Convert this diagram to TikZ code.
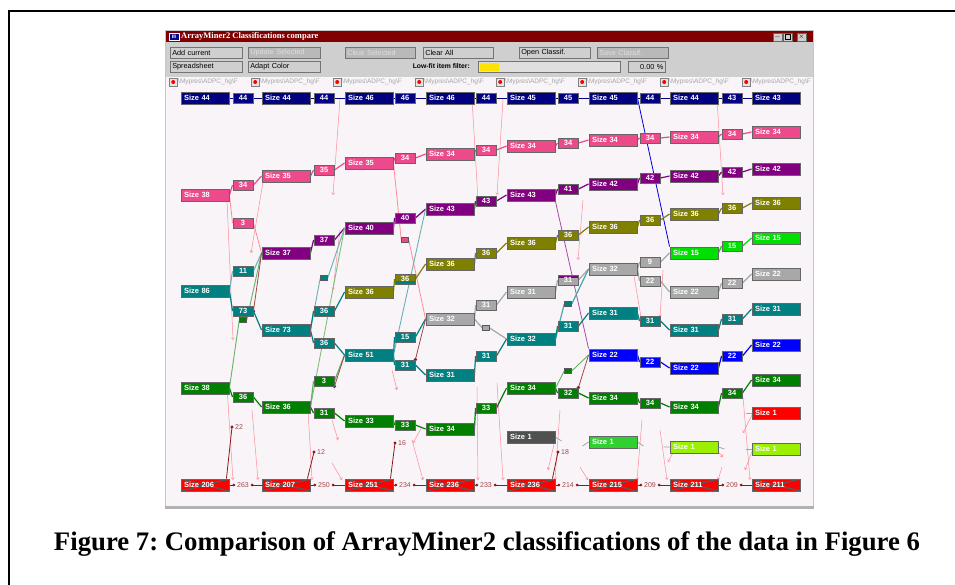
\documentclass[tikz,border=0pt]{standalone}
\usepackage{fontspec}
\usepackage{graphicx}
\setmainfont{Liberation Serif}
\newfontfamily\uifont{Liberation Sans}
\usetikzlibrary{arrows.meta,shadows,calc}
\pgfdeclarelayer{back}
\pgfdeclarelayer{bg}
\pgfsetlayers{back,bg,main}
\frenchspacing
\definecolor{titlered}{HTML}{800000}
\definecolor{tbgray}{HTML}{D0CFCF}
\definecolor{canvasc}{HTML}{F8F4F8}
\definecolor{navyc}{HTML}{000080}
\definecolor{pinkc}{HTML}{EC4A8A}
\definecolor{purpc}{HTML}{800080}
\definecolor{olivc}{HTML}{808000}
\definecolor{tealc}{HTML}{008080}
\definecolor{greenc}{HTML}{007F00}
\definecolor{bluec}{HTML}{0000FF}
\definecolor{lgreenc}{HTML}{00E000}
\definecolor{grayc}{HTML}{A8A8A8}
\definecolor{dgrayc}{HTML}{505050}
\definecolor{gtwoc}{HTML}{30D030}
\definecolor{limec}{HTML}{9AF000}
\definecolor{redc}{HTML}{FF0000}
\definecolor{dredc}{HTML}{8B1A1A}
\definecolor{pinkline}{HTML}{FF8C98}
\newcommand{\uiF}{\uifont\bfseries\fontsize{7.5}{8}\selectfont}
\newcommand{\cnx}[4]{\draw[#1] (#2.east) -- (#3.west) (#3.east) -- (#4.west);}
\newcommand{\botlnk}[3]{\draw[dredc,line width=0.7pt] (#1.east) -- (#2.west) (#2.east) -- (#3.west); \fill[dredc] (#2.west) circle (1.5) (#2.east) circle (1.5);}
\tikzset{
  cls/.style={draw=black!60, line width=0.9pt, fill=#1, minimum height=12pt, text width=42pt, inner xsep=3pt, inner ysep=0pt, align=left, font=\uiF, text=white, drop shadow={shadow xshift=1.3pt, shadow yshift=-1.3pt, opacity=0.6, fill=black!60}},
  lnk/.style={draw=black!60, line width=0.9pt, fill=#1, minimum width=20pt, minimum height=10pt, inner sep=0pt, font=\uiF, text=white, drop shadow={shadow xshift=1pt, shadow yshift=-1pt, opacity=0.6, fill=black!60}},
  tinybox/.style={draw=black!65, line width=0.5pt, fill=#1, minimum width=7pt, minimum height=5pt, inner sep=0pt},
  redx/.style={cls=redc, path picture={\draw[black!65,line width=1.4pt] (path picture bounding box.north west) -- (path picture bounding box.south east) (path picture bounding box.south west) -- (path picture bounding box.north east);}},
  btn/.style={draw=black!55, fill=tbgray, line width=0.6pt, minimum height=11pt, inner xsep=2pt, inner ysep=0pt, anchor=west, align=left, font=\uifont\fontsize{7.3}{8}\selectfont},
  dbtn/.style={btn, fill=gray!55, text=gray!25},
  dotlbl/.style={font=\uifont\fontsize{7}{8}\selectfont, text=dredc!80, inner xsep=3pt, inner ysep=0pt},
  pk/.style={draw=pinkline, line width=0.5pt, -{Straight Barb[length=2pt,width=3pt]}},
  ln/.style={line width=1.2pt},
  wbtn/.style={draw=black!60, fill=tbgray, minimum width=9pt, minimum height=8pt, inner sep=0pt, font=\uiF},
}
\begin{document}
\begin{tikzpicture}[x=1pt,y=-1pt]
\useasboundingbox (0,0) rectangle (955,584);
\begin{pgfonlayer}{back}
\fill[white] (0,0) rectangle (955,584);
\draw[line width=2pt] (9,590) -- (9,11) -- (962,11);
% window
\fill[gray!45] (165,30) rectangle (814,508);
\fill[titlered] (166,31) rectangle (813,42);
\fill[tbgray] (166,42) rectangle (813,77);
\fill[canvasc] (166,77) rectangle (813,506);
\fill[gray!60] (165,506) rectangle (814,508.5);
\end{pgfonlayer}
% title bar
\node[fill=blue!55!black, draw=white!70, minimum width=10pt, minimum height=7pt, inner sep=0pt, font=\uifont\bfseries\fontsize{5}{5}\selectfont, text=white] (ticon) at (174,36.5) {III};
\node[anchor=west, inner sep=0pt, font=\bfseries\fontsize{8.5}{9}\selectfont, text=white] (ttitle) at (181,36.5) {ArrayMiner2 Classifications compare};
\node[wbtn] (wmin) at (777.5,37) {\_};
\node[wbtn] (wmax) at (787.5,37) {};
\draw[black, line width=0.6pt] ($(wmax.center)+(-2.5,-2.5)$) rectangle ($(wmax.center)+(2.5,2.5)$);
\node[wbtn] (wcls) at (801.5,37) {$\times$};
% toolbar
\node[btn, text width=68pt] (bA) at (170,52.5) {Add current};
\node[dbtn, text width=68pt] (bB) at (248,52.5) {Update Selected};
\node[dbtn, text width=66pt] (bC) at (345,52.5) {Clear Selected};
\node[btn, text width=66pt] (bD) at (423,52.5) {Clear All};
\node[btn, text width=67pt] (bE) at (519,52.5) {Open Classif.};
\node[dbtn, text width=67pt] (bF) at (597,52.5) {Save Classif.};
\node[btn, text width=68pt] (bG) at (170,66.5) {Spreadsheet};
\node[btn, text width=68pt] (bH) at (248,66.5) {Adapt Color};
\node[anchor=east, inner sep=0pt, font=\uifont\bfseries\fontsize{6.8}{7}\selectfont] (lowfit) at (470,66.5) {Low-fit item filter:};
\node[draw=black!55, fill=gray!25, minimum width=142pt, minimum height=11pt, inner sep=0pt, anchor=west] (pbar) at (478,66.5) {};
\node[fill=yellow!85!orange, minimum width=19pt, minimum height=8pt, inner sep=0pt, anchor=west] (pfill) at (479.5,66.5) {};
\node[btn, text width=33pt, align=right] (pct) at (628,66.5) {0.00 \%};
% file row
\foreach \fx [count=\fk] in {169,251,333,415,496,578,660,742}{
  \node[draw=black!50, fill=gray!20, minimum size=8pt, inner sep=0pt, anchor=west] (ic\fk) at (\fx,82) {};
  \fill[red] (ic\fk.center) circle (2);
  \node[anchor=west, inner sep=0pt, font=\uifont\fontsize{6.5}{7}\selectfont, text=gray!70] (fl\fk) at (\fx+9,82) {\textbackslash Mypres\textbackslash ADPC\_hg\textbackslash F};
}
% ---------------- nodes ----------------
% col 1
\node[cls=navyc] (c1a) at (205,98) {Size 44};
\node[cls=pinkc] (c1b) at (205,195) {Size 38};
\node[cls=tealc] (c1c) at (205,291) {Size 86};
\node[cls=greenc] (c1d) at (205,388) {Size 38};
\node[redx] (c1e) at (205,485) {Size 206};
% col 2
\node[cls=navyc] (c2a) at (286,98) {Size 44};
\node[cls=pinkc] (c2b) at (286,176) {Size 35};
\node[cls=purpc] (c2c) at (286,253) {Size 37};
\node[cls=tealc] (c2d) at (286,330) {Size 73};
\node[cls=greenc] (c2e) at (286,407) {Size 36};
\node[redx] (c2f) at (286,485) {Size 207};
% col 3
\node[cls=navyc] (c3a) at (369,98) {Size 46};
\node[cls=pinkc] (c3b) at (369,163) {Size 35};
\node[cls=purpc] (c3c) at (369,228) {Size 40};
\node[cls=olivc] (c3d) at (369,292) {Size 36};
\node[cls=tealc] (c3e) at (369,355) {Size 51};
\node[cls=greenc] (c3f) at (369,421) {Size 33};
\node[redx] (c3g) at (369,485) {Size 251};
% col 4
\node[cls=navyc] (c4a) at (450,98) {Size 46};
\node[cls=pinkc] (c4b) at (450,154) {Size 34};
\node[cls=purpc] (c4c) at (450,209) {Size 43};
\node[cls=olivc] (c4d) at (450,264) {Size 36};
\node[cls=grayc] (c4e) at (450,319) {Size 32};
\node[cls=tealc] (c4f) at (450,375) {Size 31};
\node[cls=greenc] (c4g) at (450,429) {Size 34};
\node[redx] (c4h) at (450,485) {Size 236};
% col 5
\node[cls=navyc] (c5a) at (531,98) {Size 45};
\node[cls=pinkc] (c5b) at (531,146) {Size 34};
\node[cls=purpc] (c5c) at (531,195) {Size 43};
\node[cls=olivc] (c5d) at (531,243) {Size 36};
\node[cls=grayc] (c5e) at (531,292) {Size 31};
\node[cls=tealc] (c5f) at (531,339) {Size 32};
\node[cls=greenc] (c5g) at (531,388) {Size 34};
\node[cls=dgrayc] (c5h) at (531,437) {Size 1};
\node[redx] (c5i) at (531,485) {Size 236};
% col 6
\node[cls=navyc] (c6a) at (613,98) {Size 45};
\node[cls=pinkc] (c6b) at (613,140) {Size 34};
\node[cls=purpc] (c6c) at (613,184) {Size 42};
\node[cls=olivc] (c6d) at (613,227) {Size 36};
\node[cls=grayc] (c6e) at (613,269) {Size 32};
\node[cls=tealc] (c6f) at (613,313) {Size 31};
\node[cls=bluec] (c6g) at (613,355) {Size 22};
\node[cls=greenc] (c6h) at (613,398) {Size 34};
\node[cls=gtwoc] (c6i) at (613,442) {Size 1};
\node[redx] (c6j) at (613,485) {Size 215};
% col 7
\node[cls=navyc] (c7a) at (694,98) {Size 44};
\node[cls=pinkc] (c7b) at (694,137) {Size 34};
\node[cls=purpc] (c7c) at (694,176) {Size 42};
\node[cls=olivc] (c7d) at (694,214) {Size 36};
\node[cls=lgreenc] (c7e) at (694,253) {Size 15};
\node[cls=grayc] (c7f) at (694,292) {Size 22};
\node[cls=tealc] (c7g) at (694,330) {Size 31};
\node[cls=bluec] (c7h) at (694,368) {Size 22};
\node[cls=greenc] (c7i) at (694,407) {Size 34};
\node[cls=limec] (c7j) at (694,447) {Size 1};
\node[redx] (c7k) at (694,485) {Size 211};
% col 8
\node[cls=navyc] (c8a) at (776,98) {Size 43};
\node[cls=pinkc] (c8b) at (776,132) {Size 34};
\node[cls=purpc] (c8c) at (776,169) {Size 42};
\node[cls=olivc] (c8d) at (776,203) {Size 36};
\node[cls=lgreenc] (c8e) at (776,238) {Size 15};
\node[cls=grayc] (c8f) at (776,274) {Size 22};
\node[cls=tealc] (c8g) at (776,309) {Size 31};
\node[cls=bluec] (c8h) at (776,345) {Size 22};
\node[cls=greenc] (c8i) at (776,380) {Size 34};
\node[cls=redc] (c8j) at (776,413) {Size 1};
\node[cls=limec] (c8k) at (776,449) {Size 1};
\node[redx] (c8l) at (776,485) {Size 211};
% links 1-2
\node[lnk=navyc] (l12a) at (243,98) {44};
\node[lnk=pinkc] (l12b) at (243,185) {34};
\node[lnk=pinkc] (l12c) at (243,223) {3};
\node[lnk=tealc] (l12d) at (243,271) {11};
\node[lnk=tealc] (l12e) at (243,311) {73};
\node[tinybox=greenc] (l12f) at (243,320) {};
\node[lnk=greenc] (l12g) at (243,397) {36};
% links 2-3
\node[lnk=navyc] (l23a) at (324,98) {44};
\node[lnk=pinkc] (l23b) at (324,170) {35};
\node[lnk=purpc] (l23c) at (324,240) {37};
\node[tinybox=tealc] (l23d) at (324,278) {};
\node[lnk=tealc] (l23e) at (324,311) {36};
\node[lnk=tealc] (l23f) at (324,343) {36};
\node[lnk=greenc] (l23g) at (324,381) {3};
\node[lnk=greenc] (l23h) at (324,413) {31};
% links 3-4
\node[lnk=navyc] (l34a) at (405,98) {46};
\node[lnk=pinkc] (l34b) at (405,158) {34};
\node[lnk=purpc] (l34c) at (405,218) {40};
\node[tinybox=pinkc] (l34d) at (405,240) {};
\node[lnk=olivc, path picture={\fill[tealc] (path picture bounding box.south west) rectangle ([yshift=3pt]path picture bounding box.south east);}] (l34e) at (405,279) {36};
\node[lnk=tealc] (l34f) at (405,337) {15};
\node[lnk=tealc] (l34g) at (405,365) {31};
\node[lnk=greenc] (l34h) at (405,425) {33};
% links 4-5
\node[lnk=navyc] (l45a) at (486,98) {44};
\node[lnk=pinkc] (l45b) at (486,150) {34};
\node[lnk=purpc] (l45c) at (486,201) {43};
\node[lnk=olivc] (l45d) at (486,253) {36};
\node[lnk=grayc] (l45e) at (486,305) {31};
\node[tinybox=grayc] (l45f) at (486,328) {};
\node[lnk=tealc] (l45g) at (486,356) {31};
\node[lnk=greenc] (l45h) at (486,408) {33};
% links 5-6
\node[lnk=navyc] (l56a) at (568,98) {45};
\node[lnk=pinkc] (l56b) at (568,143) {34};
\node[lnk=purpc] (l56c) at (568,189) {41};
\node[lnk=olivc] (l56d) at (568,235) {36};
\node[lnk=grayc, path picture={\fill[purpc] (path picture bounding box.north west) rectangle ([yshift=-2.5pt]path picture bounding box.north east);}] (l56e) at (568,280) {31};
\node[tinybox=tealc] (l56f) at (568,304) {};
\node[lnk=tealc] (l56g) at (568,326) {31};
\node[tinybox=greenc] (l56h) at (568,371) {};
\node[lnk=greenc] (l56i) at (568,393) {32};
% links 6-7
\node[lnk=navyc] (l67a) at (650,98) {44};
\node[lnk=pinkc] (l67b) at (650,138) {34};
\node[lnk=purpc] (l67c) at (650,178) {42};
\node[lnk=olivc] (l67d) at (650,220) {36};
\node[lnk=grayc] (l67e) at (650,262) {9};
\node[lnk=grayc] (l67f) at (650,281) {22};
\node[lnk=tealc] (l67g) at (650,321) {31};
\node[lnk=bluec] (l67h) at (650,362) {22};
\node[lnk=greenc] (l67i) at (650,403) {34};
% links 7-8
\node[lnk=navyc] (l78a) at (732,98) {43};
\node[lnk=pinkc] (l78b) at (732,134) {34};
\node[lnk=purpc] (l78c) at (732,172) {42};
\node[lnk=olivc] (l78d) at (732,208) {36};
\node[lnk=lgreenc] (l78e) at (732,246) {15};
\node[lnk=grayc] (l78f) at (732,283) {22};
\node[lnk=tealc] (l78g) at (732,319) {31};
\node[lnk=bluec] (l78h) at (732,356) {22};
\node[lnk=greenc] (l78i) at (732,393) {34};
% bottom labels
\node[dotlbl] (b12) at (243,485) {263};
\node[dotlbl] (b23) at (324,485) {250};
\node[dotlbl] (b34) at (405,485) {234};
\node[dotlbl] (b45) at (486,485) {233};
\node[dotlbl] (b56) at (568,485) {214};
\node[dotlbl] (b67) at (650,485) {209};
\node[dotlbl] (b78) at (732,485) {209};
\coordinate (e22) at (232,427);
\coordinate (e12) at (314,452);
\coordinate (e16) at (395,443);
\coordinate (e18) at (558,452);
\node[dotlbl, anchor=west] (t22) at (e22) {22};
\node[dotlbl, anchor=west] (t12) at (e12) {12};
\node[dotlbl, anchor=west] (t16) at (e16) {16};
\node[dotlbl, anchor=west] (t18) at (e18) {18};
% ---------------- connectors ----------------
\begin{pgfonlayer}{bg}
% faint pink flows
\foreach \ax/\ay/\bx/\by in {340/99/333/195, 472/99/478/200, 503/99/497/195, 717/99/723/195, 263/182/251/253, 227/200/233/340, 340/230/333/290, 583/200/578/260, 633/270/642/323, 663/270/660/317, 227/387/233/480, 252/410/258/480, 308/410/312/480, 332/420/338/440, 392/370/397/390, 332/463/342/480, 412/440/423/480, 477/387/478/480, 422/427/413/443, 497/383/503/480, 560/410/555/480, 580/467/588/480, 642/420/637/480, 660/430/667/480, 713/447/723/457, 722/467/718/480, 743/397/750/480, 753/413/743/433, 753/449/745/470, 555/440/548/470, 676/447/668/462}
  \draw[pk] (\ax,\ay) -- (\bx,\by);
\cnx{pinkline,line width=0.8pt}{c1b}{l12c}{c2c}
\cnx{pinkline,line width=0.8pt}{c3b}{l34d}{c4e}
% navy top row
\cnx{navyc,line width=0.9pt}{c1a}{l12a}{c2a}
\cnx{navyc,line width=0.9pt}{c2a}{l23a}{c3a}
\cnx{navyc,line width=0.9pt}{c3a}{l34a}{c4a}
\cnx{navyc,line width=0.9pt}{c4a}{l45a}{c5a}
\cnx{navyc,line width=0.9pt}{c5a}{l56a}{c6a}
\cnx{navyc,line width=0.9pt}{c6a}{l67a}{c7a}
\cnx{navyc,line width=0.9pt}{c7a}{l78a}{c8a}
\draw[bluec!70!navyc,line width=0.8pt] (c6a.east) -- (c7e.north west);
% pink
\cnx{pinkc,ln}{c1b}{l12b}{c2b}
\cnx{pinkc,ln}{c2b}{l23b}{c3b}
\cnx{pinkc,ln}{c3b}{l34b}{c4b}
\cnx{pinkc,ln}{c4b}{l45b}{c5b}
\cnx{pinkc,ln}{c5b}{l56b}{c6b}
\cnx{pinkc,ln}{c6b}{l67b}{c7b}
\cnx{pinkc,ln}{c7b}{l78b}{c8b}
% purple
\cnx{purpc,ln}{c2c}{l23c}{c3c}
\cnx{purpc,ln}{c3c}{l34c}{c4c}
\cnx{purpc,ln}{c4c}{l45c}{c5c}
\cnx{purpc,ln}{c5c}{l56c}{c6c}
\cnx{purpc,ln}{c6c}{l67c}{c7c}
\cnx{purpc,ln}{c7c}{l78c}{c8c}
\draw[purpc!70,line width=0.8pt] (c5c.south east) -- (c6g.north west);
% olive
\cnx{olivc,ln}{c3d}{l34e}{c4d}
\cnx{olivc,ln}{c4d}{l45d}{c5d}
\cnx{olivc,ln}{c5d}{l56d}{c6d}
\cnx{olivc,ln}{c6d}{l67d}{c7d}
\cnx{olivc,ln}{c7d}{l78d}{c8d}
% bright green
\cnx{lgreenc,ln}{c7e}{l78e}{c8e}
% gray
\cnx{gray!70,ln}{c4e}{l45e}{c5e}
\cnx{gray!70,ln}{c4e}{l45f}{c5f}
\cnx{gray!70,ln}{c5e}{l56e}{c6e}
\cnx{gray!70,ln}{c6e}{l67e}{c7e}
\cnx{gray!70,ln}{c6e}{l67f}{c7f}
\cnx{gray!70,ln}{c7f}{l78f}{c8f}
% teal
\cnx{tealc!55,ln}{c1c}{l12d}{c2c}
\cnx{tealc,ln}{c1c}{l12e}{c2d}
\cnx{tealc!60,line width=0.9pt}{c2d}{l23d}{c3c}
\cnx{tealc,ln}{c2d}{l23e}{c3d}
\cnx{tealc,ln}{c2d}{l23f}{c3e}
\draw[tealc!60,line width=0.9pt] (c3e.east) -- (c4c.west);
\cnx{tealc,ln}{c3e}{l34f}{c4e}
\cnx{tealc,ln}{c3e}{l34g}{c4f}
\cnx{tealc,ln}{c4f}{l45g}{c5f}
\cnx{tealc!70,ln}{c5f}{l56f}{c6e}
\cnx{tealc,ln}{c5f}{l56g}{c6f}
\cnx{tealc,ln}{c6f}{l67g}{c7g}
\cnx{tealc,ln}{c7g}{l78g}{c8g}
% blue
\cnx{bluec,ln}{c6g}{l67h}{c7h}
\cnx{bluec,ln}{c7h}{l78h}{c8h}
% green
\cnx{greenc!60,line width=0.9pt}{c1d}{l12f}{c2c}
\cnx{greenc,ln}{c1d}{l12g}{c2e}
\draw[greenc!50,line width=0.9pt] (c2e.east) -- (c3c.west);
\cnx{greenc!60,ln}{c2e}{l23g}{c3e}
\cnx{greenc,ln}{c2e}{l23h}{c3f}
\cnx{greenc,ln}{c3f}{l34h}{c4g}
\cnx{greenc,ln}{c4g}{l45h}{c5g}
\cnx{greenc!60,line width=0.9pt}{c5g}{l56h}{c6g}
\cnx{greenc,ln}{c5g}{l56i}{c6h}
\cnx{greenc,ln}{c6h}{l67i}{c7i}
\cnx{greenc,ln}{c7i}{l78i}{c8i}
% gray stubs for small clusters
\draw[gray!70,line width=0.8pt] (c5h.east) -- ++(6,4);
\draw[gray!70,line width=0.8pt] (c6i.west) -- ++(-6,4) (c6i.east) -- ++(6,4);
\draw[gray!70,line width=0.8pt] (c7j.west) -- ++(-6,0) (c7j.east) -- ++(6,2);
\draw[gray!70,line width=0.8pt] (c8j.west) -- ++(-6,0) (c8k.west) -- ++(-6,0);
% dark red splits
\draw[dredc!80,line width=0.8pt] (l12e.east) -- (c2c.west);
\fill[dredc] (l12e.east) circle (1.8);
\draw[dredc!80,line width=0.8pt] (l23g.south east) -- (c3e.west);
\fill[dredc] (l23g.south east) circle (1.8);
\draw[dredc!80,line width=0.8pt] (l34g.north east) -- (c4e.west);
\fill[dredc] (l34g.north east) circle (1.8);
\draw[dredc!80,line width=0.8pt] (l56i.north east) -- (c6g.west);
\fill[dredc] (l56i.north east) circle (1.8);
% bottom row
\botlnk{c1e}{b12}{c2f}
\botlnk{c2f}{b23}{c3g}
\botlnk{c3g}{b34}{c4h}
\botlnk{c4h}{b45}{c5i}
\botlnk{c5i}{b56}{c6j}
\botlnk{c6j}{b67}{c7k}
\botlnk{c7k}{b78}{c8l}
\draw[dredc,line width=0.8pt] ([xshift=-3pt]c1e.north east) -- (e22);
\draw[dredc,line width=0.8pt] ([xshift=-3pt]c2f.north east) -- (e12);
\draw[dredc,line width=0.8pt] ([xshift=-3pt]c3g.north east) -- (e16);
\draw[dredc,line width=0.8pt] ([xshift=-3pt]c5i.north east) -- (e18);
\fill[dredc] (e22) circle (1.6) (e12) circle (1.6) (e16) circle (1.6) (e18) circle (1.6);
\end{pgfonlayer}
% caption
\node[inner sep=0pt] (cap) at (487,544) {\resizebox{866pt}{!}{\bfseries Figure 7: Comparison of ArrayMiner2 classifications of the data in Figure 6}};
\end{tikzpicture}
\end{document}
